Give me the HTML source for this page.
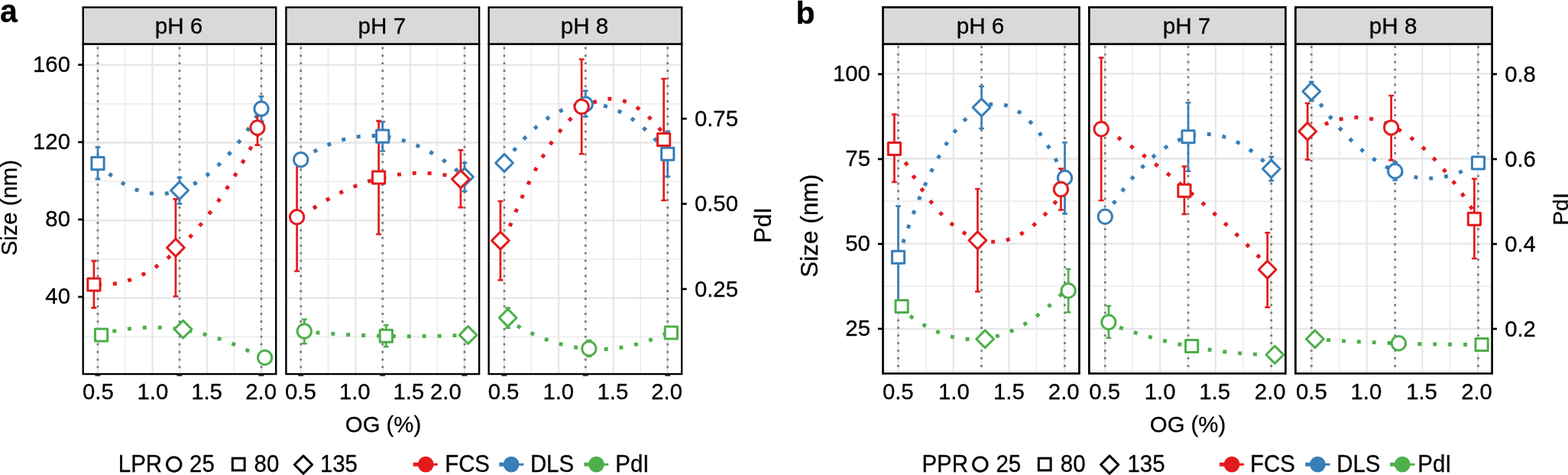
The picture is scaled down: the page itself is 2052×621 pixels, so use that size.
<!DOCTYPE html>
<html><head><meta charset="utf-8"><title>Figure</title>
<style>html,body{margin:0;padding:0;background:#fff;}body{width:2052px;height:621px;overflow:hidden;}svg{display:block;}</style>
</head><body>
<svg width="2052" height="621" viewBox="0 0 2052 621" font-family="'Liberation Sans', Arial, Helvetica, sans-serif">
<style>text{stroke:#000;stroke-width:0.3px;fill:#000}</style>
<rect width="2052" height="621" fill="#fff"/>
<clipPath id="c108_0"><rect x="108.7" y="57.5" width="252.5" height="431.5"/></clipPath>
<g clip-path="url(#c108_0)">
<line x1="108.7" x2="361.2" y1="135.7" y2="135.7" stroke="#ececec" stroke-width="1.6"/>
<line x1="108.7" x2="361.2" y1="237.3" y2="237.3" stroke="#ececec" stroke-width="1.6"/>
<line x1="108.7" x2="361.2" y1="338.9" y2="338.9" stroke="#ececec" stroke-width="1.6"/>
<line x1="108.7" x2="361.2" y1="440.5" y2="440.5" stroke="#ececec" stroke-width="1.6"/>
<line x1="163.7" x2="163.7" y1="57.5" y2="489" stroke="#ececec" stroke-width="1.6"/>
<line x1="235" x2="235" y1="57.5" y2="489" stroke="#ececec" stroke-width="1.6"/>
<line x1="306.5" x2="306.5" y1="57.5" y2="489" stroke="#ececec" stroke-width="1.6"/>
<line x1="108.7" x2="361.2" y1="84.9" y2="84.9" stroke="#e6e6e6" stroke-width="2.3"/>
<line x1="108.7" x2="361.2" y1="186.5" y2="186.5" stroke="#e6e6e6" stroke-width="2.3"/>
<line x1="108.7" x2="361.2" y1="288.1" y2="288.1" stroke="#e6e6e6" stroke-width="2.3"/>
<line x1="108.7" x2="361.2" y1="389.7" y2="389.7" stroke="#e6e6e6" stroke-width="2.3"/>
<line x1="128" x2="128" y1="57.5" y2="489" stroke="#e6e6e6" stroke-width="2.2"/>
<line x1="199.5" x2="199.5" y1="57.5" y2="489" stroke="#e6e6e6" stroke-width="2.2"/>
<line x1="271" x2="271" y1="57.5" y2="489" stroke="#e6e6e6" stroke-width="2.2"/>
<line x1="342" x2="342" y1="57.5" y2="489" stroke="#e6e6e6" stroke-width="2.2"/>
<line x1="128" x2="128" y1="57.5" y2="489" stroke="#767676" stroke-width="2.7" stroke-dasharray="2.7 7.23" stroke-dashoffset="5.88" />
<line x1="235" x2="235" y1="57.5" y2="489" stroke="#767676" stroke-width="2.7" stroke-dasharray="2.7 7.23" stroke-dashoffset="5.88" />
<line x1="342" x2="342" y1="57.5" y2="489" stroke="#767676" stroke-width="2.7" stroke-dasharray="2.7 7.23" stroke-dashoffset="5.88" />
<path d="M128 213.7L131.57 217.17L135.13 220.47L138.7 223.62L142.27 226.62L145.83 229.45L149.4 232.13L152.97 234.65L156.53 237.01L160.1 239.21L163.67 241.26L167.23 243.14L170.8 244.87L174.37 246.44L177.93 247.86L181.5 249.11L185.07 250.21L188.63 251.15L192.2 251.93L195.77 252.56L199.33 253.02L202.9 253.33L206.47 253.48L210.03 253.47L213.6 253.31L217.17 252.98L220.73 252.5L224.3 251.86L227.87 251.07L231.43 250.11L235 249L238.57 247.73L242.13 246.3L245.7 244.71L249.27 242.97L252.83 241.07L256.4 239.01L259.97 236.79L263.53 234.41L267.1 231.88L270.67 229.19L274.23 226.34L277.8 223.33L281.37 220.17L284.93 216.84L288.5 213.36L292.07 209.72L295.63 205.93L299.2 201.97L302.77 197.86L306.33 193.59L309.9 189.16L313.47 184.57L317.03 179.83L320.6 174.93L324.17 169.87L327.73 164.65L331.3 159.27L334.87 153.74L338.43 148.05L342 142.2" fill="none" stroke="#377EB8" stroke-width="4.95" stroke-dasharray="4.95 14.95"/>
<path d="M128 372L131.57 372.14L135.13 372.15L138.7 372.05L142.27 371.82L145.83 371.48L149.4 371.01L152.97 370.43L156.53 369.72L160.1 368.89L163.67 367.94L167.23 366.88L170.8 365.69L174.37 364.38L177.93 362.95L181.5 361.4L185.07 359.73L188.63 357.94L192.2 356.03L195.77 354L199.33 351.84L202.9 349.57L206.47 347.18L210.03 344.67L213.6 342.03L217.17 339.28L220.73 336.4L224.3 333.41L227.87 330.29L231.43 327.06L235 323.7L238.57 320.22L242.13 316.63L245.7 312.91L249.27 309.07L252.83 305.11L256.4 301.03L259.97 296.83L263.53 292.51L267.1 288.07L270.67 283.51L274.23 278.83L277.8 274.03L281.37 269.11L284.93 264.06L288.5 258.9L292.07 253.62L295.63 248.21L299.2 242.69L302.77 237.04L306.33 231.28L309.9 225.39L313.47 219.39L317.03 213.26L320.6 207.01L324.17 200.64L327.73 194.16L331.3 187.55L334.87 180.82L338.43 173.97L342 167" fill="none" stroke="#E41A1C" stroke-width="4.95" stroke-dasharray="4.95 14.95"/>
<path d="M128 438L131.57 437.03L135.13 436.12L138.7 435.25L142.27 434.43L145.83 433.66L149.4 432.94L152.97 432.27L156.53 431.65L160.1 431.08L163.67 430.56L167.23 430.08L170.8 429.66L174.37 429.29L177.93 428.96L181.5 428.69L185.07 428.46L188.63 428.29L192.2 428.16L195.77 428.08L199.33 428.06L202.9 428.08L206.47 428.15L210.03 428.27L213.6 428.44L217.17 428.66L220.73 428.93L224.3 429.25L227.87 429.62L231.43 430.03L235 430.5L238.57 431.02L242.13 431.58L245.7 432.2L249.27 432.86L252.83 433.58L256.4 434.34L259.97 435.15L263.53 436.02L267.1 436.93L270.67 437.89L274.23 438.9L277.8 439.96L281.37 441.07L284.93 442.23L288.5 443.44L292.07 444.7L295.63 446L299.2 447.36L302.77 448.77L306.33 450.22L309.9 451.73L313.47 453.28L317.03 454.89L320.6 456.54L324.17 458.24L327.73 460L331.3 461.8L334.87 463.65L338.43 465.55L342 467.5" fill="none" stroke="#4DAF4A" stroke-width="4.95" stroke-dasharray="4.95 14.95"/>
<path d="M128 192.5L128 234.2M124.6 192.5L131.4 192.5M124.6 234.2L131.4 234.2" fill="none" stroke="#377EB8" stroke-width="2.7"/>
<path d="M235 232.1L235 266.5M231.6 232.1L238.4 232.1M231.6 266.5L238.4 266.5" fill="none" stroke="#377EB8" stroke-width="2.7"/>
<path d="M342 126.2L342 158.6M338.6 126.2L345.4 126.2M338.6 158.6L345.4 158.6" fill="none" stroke="#377EB8" stroke-width="2.7"/>
<path d="M122.9 341.2L122.9 402.4M119.5 341.2L126.3 341.2M119.5 402.4L126.3 402.4" fill="none" stroke="#E41A1C" stroke-width="2.7"/>
<path d="M229.9 260.4L229.9 387.5M226.5 260.4L233.3 260.4M226.5 387.5L233.3 387.5" fill="none" stroke="#E41A1C" stroke-width="2.7"/>
<path d="M336.9 144.3L336.9 189.7M333.5 144.3L340.3 144.3M333.5 189.7L340.3 189.7" fill="none" stroke="#E41A1C" stroke-width="2.7"/>
<rect x="119.9" y="205.6" width="16.2" height="16.2" fill="#fff" stroke="#377EB8" stroke-width="3" stroke-linejoin="round"/>
<path d="M235 237.6L246.4 249L235 260.4L223.6 249Z" fill="#fff" stroke="#377EB8" stroke-width="3" stroke-linejoin="round"/>
<circle cx="342" cy="142.2" r="9.15" fill="#fff" stroke="#377EB8" stroke-width="3"/>
<rect x="114.8" y="363.9" width="16.2" height="16.2" fill="#fff" stroke="#E41A1C" stroke-width="3" stroke-linejoin="round"/>
<path d="M229.9 312.3L241.3 323.7L229.9 335.1L218.5 323.7Z" fill="#fff" stroke="#E41A1C" stroke-width="3" stroke-linejoin="round"/>
<circle cx="336.9" cy="167" r="9.15" fill="#fff" stroke="#E41A1C" stroke-width="3"/>
<rect x="124.5" y="429.9" width="16.2" height="16.2" fill="#fff" stroke="#4DAF4A" stroke-width="3" stroke-linejoin="round"/>
<path d="M239.6 419.1L251 430.5L239.6 441.9L228.2 430.5Z" fill="#fff" stroke="#4DAF4A" stroke-width="3" stroke-linejoin="round"/>
<circle cx="346.6" cy="467.5" r="9.15" fill="#fff" stroke="#4DAF4A" stroke-width="3"/>
</g>
<rect x="108.7" y="57.5" width="252.5" height="431.5" fill="none" stroke="#000" stroke-width="2.4"/>
<rect x="108.7" y="9.6" width="252.5" height="47.9" fill="#d9d9d9" stroke="#000" stroke-width="2.4"/>
<text transform="translate(234.05 44.4) scale(1 1.0)" text-anchor="middle" font-size="29.6">pH 6</text>
<clipPath id="c374_1"><rect x="374.4" y="57.5" width="252.7" height="431.5"/></clipPath>
<g clip-path="url(#c374_1)">
<line x1="374.4" x2="627.1" y1="135.7" y2="135.7" stroke="#ececec" stroke-width="1.6"/>
<line x1="374.4" x2="627.1" y1="237.3" y2="237.3" stroke="#ececec" stroke-width="1.6"/>
<line x1="374.4" x2="627.1" y1="338.9" y2="338.9" stroke="#ececec" stroke-width="1.6"/>
<line x1="374.4" x2="627.1" y1="440.5" y2="440.5" stroke="#ececec" stroke-width="1.6"/>
<line x1="429.5" x2="429.5" y1="57.5" y2="489" stroke="#ececec" stroke-width="1.6"/>
<line x1="500.8" x2="500.8" y1="57.5" y2="489" stroke="#ececec" stroke-width="1.6"/>
<line x1="572.3" x2="572.3" y1="57.5" y2="489" stroke="#ececec" stroke-width="1.6"/>
<line x1="374.4" x2="627.1" y1="84.9" y2="84.9" stroke="#e6e6e6" stroke-width="2.3"/>
<line x1="374.4" x2="627.1" y1="186.5" y2="186.5" stroke="#e6e6e6" stroke-width="2.3"/>
<line x1="374.4" x2="627.1" y1="288.1" y2="288.1" stroke="#e6e6e6" stroke-width="2.3"/>
<line x1="374.4" x2="627.1" y1="389.7" y2="389.7" stroke="#e6e6e6" stroke-width="2.3"/>
<line x1="393.8" x2="393.8" y1="57.5" y2="489" stroke="#e6e6e6" stroke-width="2.2"/>
<line x1="465.3" x2="465.3" y1="57.5" y2="489" stroke="#e6e6e6" stroke-width="2.2"/>
<line x1="536.8" x2="536.8" y1="57.5" y2="489" stroke="#e6e6e6" stroke-width="2.2"/>
<line x1="607.8" x2="607.8" y1="57.5" y2="489" stroke="#e6e6e6" stroke-width="2.2"/>
<line x1="393.7" x2="393.7" y1="57.5" y2="489" stroke="#767676" stroke-width="2.7" stroke-dasharray="2.7 7.23" stroke-dashoffset="5.88" />
<line x1="500.7" x2="500.7" y1="57.5" y2="489" stroke="#767676" stroke-width="2.7" stroke-dasharray="2.7 7.23" stroke-dashoffset="5.88" />
<line x1="608" x2="608" y1="57.5" y2="489" stroke="#767676" stroke-width="2.7" stroke-dasharray="2.7 7.23" stroke-dashoffset="5.88" />
<path d="M393.7 208.75L397.27 206.39L400.84 204.11L404.41 201.94L407.99 199.85L411.56 197.86L415.13 195.96L418.7 194.15L422.27 192.44L425.84 190.81L429.42 189.29L432.99 187.85L436.56 186.51L440.13 185.26L443.7 184.1L447.27 183.04L450.85 182.07L454.42 181.19L457.99 180.4L461.56 179.71L465.13 179.11L468.7 178.6L472.28 178.19L475.85 177.87L479.42 177.64L482.99 177.5L486.56 177.46L490.13 177.51L493.71 177.65L497.28 177.89L500.85 178.22L504.42 178.64L507.99 179.15L511.56 179.76L515.14 180.46L518.71 181.25L522.28 182.14L525.85 183.12L529.42 184.19L533 185.35L536.57 186.61L540.14 187.96L543.71 189.4L547.28 190.94L550.85 192.57L554.42 194.29L558 196.1L561.57 198.01L565.14 200.01L568.71 202.1L572.28 204.29L575.86 206.56L579.43 208.94L583 211.4L586.57 213.96L590.14 216.61L593.71 219.35L597.28 222.19L600.86 225.11L604.43 228.14L608 231.25" fill="none" stroke="#377EB8" stroke-width="4.95" stroke-dasharray="4.95 14.95"/>
<path d="M393.7 283.75L397.27 281.15L400.84 278.62L404.41 276.14L407.99 273.72L411.56 271.36L415.13 269.07L418.7 266.83L422.27 264.65L425.84 262.54L429.42 260.48L432.99 258.48L436.56 256.55L440.13 254.67L443.7 252.86L447.27 251.1L450.85 249.4L454.42 247.77L457.99 246.19L461.56 244.67L465.13 243.22L468.7 241.82L472.28 240.49L475.85 239.21L479.42 238L482.99 236.84L486.56 235.75L490.13 234.71L493.71 233.74L497.28 232.82L500.85 231.97L504.42 231.17L507.99 230.44L511.56 229.76L515.14 229.15L518.71 228.59L522.28 228.1L525.85 227.66L529.42 227.29L533 226.97L536.57 226.72L540.14 226.52L543.71 226.39L547.28 226.32L550.85 226.3L554.42 226.35L558 226.46L561.57 226.62L565.14 226.85L568.71 227.13L572.28 227.48L575.86 227.89L579.43 228.35L583 228.88L586.57 229.47L590.14 230.11L593.71 230.82L597.28 231.59L600.86 232.42L604.43 233.3L608 234.25" fill="none" stroke="#E41A1C" stroke-width="4.95" stroke-dasharray="4.95 14.95"/>
<path d="M393.7 433L397.27 433.33L400.84 433.65L404.41 433.96L407.99 434.27L411.56 434.56L415.13 434.85L418.7 435.13L422.27 435.4L425.84 435.66L429.42 435.92L432.99 436.16L436.56 436.4L440.13 436.63L443.7 436.85L447.27 437.07L450.85 437.27L454.42 437.47L457.99 437.65L461.56 437.83L465.13 438L468.7 438.17L472.28 438.32L475.85 438.47L479.42 438.6L482.99 438.73L486.56 438.85L490.13 438.97L493.71 439.07L497.28 439.17L500.85 439.25L504.42 439.33L507.99 439.4L511.56 439.47L515.14 439.52L518.71 439.57L522.28 439.6L525.85 439.63L529.42 439.65L533 439.67L536.57 439.67L540.14 439.67L543.71 439.65L547.28 439.63L550.85 439.6L554.42 439.57L558 439.52L561.57 439.46L565.14 439.4L568.71 439.33L572.28 439.25L575.86 439.16L579.43 439.07L583 438.96L586.57 438.85L590.14 438.73L593.71 438.6L597.28 438.46L600.86 438.32L604.43 438.16L608 438" fill="none" stroke="#4DAF4A" stroke-width="4.95" stroke-dasharray="4.95 14.95"/>
<path d="M500.7 159.2L500.7 197.5M497.3 159.2L504.1 159.2M497.3 197.5L504.1 197.5" fill="none" stroke="#377EB8" stroke-width="2.7"/>
<path d="M608 213L608 250M604.6 213L611.4 213M604.6 250L611.4 250" fill="none" stroke="#377EB8" stroke-width="2.7"/>
<path d="M388.6 213L388.6 354.5M385.2 213L392 213M385.2 354.5L392 354.5" fill="none" stroke="#E41A1C" stroke-width="2.7"/>
<path d="M495.6 158.2L495.6 306.25M492.2 158.2L499 158.2M492.2 306.25L499 306.25" fill="none" stroke="#E41A1C" stroke-width="2.7"/>
<path d="M602.9 196.25L602.9 271.25M599.5 196.25L606.3 196.25M599.5 271.25L606.3 271.25" fill="none" stroke="#E41A1C" stroke-width="2.7"/>
<path d="M398.3 417.5L398.3 449.25M394.9 417.5L401.7 417.5M394.9 449.25L401.7 449.25" fill="none" stroke="#4DAF4A" stroke-width="2.7"/>
<path d="M505.3 425L505.3 453.25M501.9 425L508.7 425M501.9 453.25L508.7 453.25" fill="none" stroke="#4DAF4A" stroke-width="2.7"/>
<circle cx="393.7" cy="208.75" r="9.15" fill="#fff" stroke="#377EB8" stroke-width="3"/>
<rect x="492.6" y="170.1" width="16.2" height="16.2" fill="#fff" stroke="#377EB8" stroke-width="3" stroke-linejoin="round"/>
<path d="M608 219.85L619.4 231.25L608 242.65L596.6 231.25Z" fill="#fff" stroke="#377EB8" stroke-width="3" stroke-linejoin="round"/>
<circle cx="388.6" cy="283.75" r="9.15" fill="#fff" stroke="#E41A1C" stroke-width="3"/>
<rect x="487.5" y="223.9" width="16.2" height="16.2" fill="#fff" stroke="#E41A1C" stroke-width="3" stroke-linejoin="round"/>
<path d="M602.9 222.85L614.3 234.25L602.9 245.65L591.5 234.25Z" fill="#fff" stroke="#E41A1C" stroke-width="3" stroke-linejoin="round"/>
<circle cx="398.3" cy="433" r="9.15" fill="#fff" stroke="#4DAF4A" stroke-width="3"/>
<rect x="497.2" y="431.15" width="16.2" height="16.2" fill="#fff" stroke="#4DAF4A" stroke-width="3" stroke-linejoin="round"/>
<path d="M612.6 426.6L624 438L612.6 449.4L601.2 438Z" fill="#fff" stroke="#4DAF4A" stroke-width="3" stroke-linejoin="round"/>
</g>
<rect x="374.4" y="57.5" width="252.7" height="431.5" fill="none" stroke="#000" stroke-width="2.4"/>
<rect x="374.4" y="9.6" width="252.7" height="47.9" fill="#d9d9d9" stroke="#000" stroke-width="2.4"/>
<text transform="translate(499.85 44.4) scale(1 1.0)" text-anchor="middle" font-size="29.6">pH 7</text>
<clipPath id="c639_2"><rect x="639.6" y="57.5" width="252.6" height="431.5"/></clipPath>
<g clip-path="url(#c639_2)">
<line x1="639.6" x2="892.2" y1="135.7" y2="135.7" stroke="#ececec" stroke-width="1.6"/>
<line x1="639.6" x2="892.2" y1="237.3" y2="237.3" stroke="#ececec" stroke-width="1.6"/>
<line x1="639.6" x2="892.2" y1="338.9" y2="338.9" stroke="#ececec" stroke-width="1.6"/>
<line x1="639.6" x2="892.2" y1="440.5" y2="440.5" stroke="#ececec" stroke-width="1.6"/>
<line x1="695.37" x2="695.37" y1="57.5" y2="489" stroke="#ececec" stroke-width="1.6"/>
<line x1="766.67" x2="766.67" y1="57.5" y2="489" stroke="#ececec" stroke-width="1.6"/>
<line x1="838.17" x2="838.17" y1="57.5" y2="489" stroke="#ececec" stroke-width="1.6"/>
<line x1="639.6" x2="892.2" y1="84.9" y2="84.9" stroke="#e6e6e6" stroke-width="2.3"/>
<line x1="639.6" x2="892.2" y1="186.5" y2="186.5" stroke="#e6e6e6" stroke-width="2.3"/>
<line x1="639.6" x2="892.2" y1="288.1" y2="288.1" stroke="#e6e6e6" stroke-width="2.3"/>
<line x1="639.6" x2="892.2" y1="389.7" y2="389.7" stroke="#e6e6e6" stroke-width="2.3"/>
<line x1="659.67" x2="659.67" y1="57.5" y2="489" stroke="#e6e6e6" stroke-width="2.2"/>
<line x1="731.17" x2="731.17" y1="57.5" y2="489" stroke="#e6e6e6" stroke-width="2.2"/>
<line x1="802.67" x2="802.67" y1="57.5" y2="489" stroke="#e6e6e6" stroke-width="2.2"/>
<line x1="873.67" x2="873.67" y1="57.5" y2="489" stroke="#e6e6e6" stroke-width="2.2"/>
<line x1="660" x2="660" y1="57.5" y2="489" stroke="#767676" stroke-width="2.7" stroke-dasharray="2.7 7.23" stroke-dashoffset="5.88" />
<line x1="766.25" x2="766.25" y1="57.5" y2="489" stroke="#767676" stroke-width="2.7" stroke-dasharray="2.7 7.23" stroke-dashoffset="5.88" />
<line x1="873.75" x2="873.75" y1="57.5" y2="489" stroke="#767676" stroke-width="2.7" stroke-dasharray="2.7 7.23" stroke-dashoffset="5.88" />
<path d="M660 213L663.56 208.16L667.12 203.47L670.69 198.94L674.25 194.57L677.81 190.35L681.38 186.3L684.94 182.4L688.5 178.66L692.06 175.07L695.62 171.65L699.19 168.38L702.75 165.27L706.31 162.31L709.88 159.52L713.44 156.88L717 154.4L720.56 152.07L724.12 149.91L727.69 147.9L731.25 146.05L734.81 144.36L738.38 142.82L741.94 141.44L745.5 140.22L749.06 139.16L752.62 138.26L756.19 137.51L759.75 136.92L763.31 136.49L766.88 136.21L770.44 136.1L774 136.14L777.56 136.33L781.12 136.69L784.69 137.2L788.25 137.87L791.81 138.7L795.38 139.69L798.94 140.83L802.5 142.13L806.06 143.59L809.62 145.21L813.19 146.98L816.75 148.91L820.31 151L823.88 153.25L827.44 155.65L831 158.22L834.56 160.94L838.12 163.81L841.69 166.85L845.25 170.04L848.81 173.39L852.38 176.9L855.94 180.56L859.5 184.38L863.06 188.36L866.62 192.5L870.19 196.8L873.75 201.25" fill="none" stroke="#377EB8" stroke-width="4.95" stroke-dasharray="4.95 14.95"/>
<path d="M660 314.5L663.56 305.13L667.12 296L670.69 287.12L674.25 278.47L677.81 270.08L681.38 261.92L684.94 254.01L688.5 246.34L692.06 238.91L695.62 231.73L699.19 224.79L702.75 218.09L706.31 211.64L709.88 205.43L713.44 199.46L717 193.73L720.56 188.25L724.12 183.01L727.69 178.02L731.25 173.26L734.81 168.76L738.38 164.49L741.94 160.47L745.5 156.69L749.06 153.15L752.62 149.85L756.19 146.8L759.75 144L763.31 141.43L766.88 139.11L770.44 137.03L774 135.2L777.56 133.6L781.12 132.25L784.69 131.15L788.25 130.29L791.81 129.67L795.38 129.29L798.94 129.16L802.5 129.26L806.06 129.62L809.62 130.21L813.19 131.05L816.75 132.13L820.31 133.46L823.88 135.03L827.44 136.84L831 138.89L834.56 141.19L838.12 143.73L841.69 146.51L845.25 149.54L848.81 152.81L852.38 156.32L855.94 160.08L859.5 164.07L863.06 168.32L866.62 172.8L870.19 177.53L873.75 182.5" fill="none" stroke="#E41A1C" stroke-width="4.95" stroke-dasharray="4.95 14.95"/>
<path d="M660 415.5L663.56 417.83L667.12 420.09L670.69 422.28L674.25 424.41L677.81 426.46L681.38 428.45L684.94 430.37L688.5 432.22L692.06 434.01L695.62 435.73L699.19 437.38L702.75 438.96L706.31 440.47L709.88 441.92L713.44 443.29L717 444.6L720.56 445.84L724.12 447.02L727.69 448.12L731.25 449.16L734.81 450.13L738.38 451.04L741.94 451.87L745.5 452.64L749.06 453.33L752.62 453.96L756.19 454.53L759.75 455.02L763.31 455.45L766.88 455.81L770.44 456.1L774 456.32L777.56 456.48L781.12 456.56L784.69 456.58L788.25 456.54L791.81 456.42L795.38 456.24L798.94 455.98L802.5 455.66L806.06 455.27L809.62 454.82L813.19 454.29L816.75 453.7L820.31 453.04L823.88 452.32L827.44 451.52L831 450.66L834.56 449.73L838.12 448.73L841.69 447.66L845.25 446.52L848.81 445.32L852.38 444.05L855.94 442.71L859.5 441.31L863.06 439.83L866.62 438.29L870.19 436.68L873.75 435" fill="none" stroke="#4DAF4A" stroke-width="4.95" stroke-dasharray="4.95 14.95"/>
<path d="M766.25 118.75L766.25 152.5M762.85 118.75L769.65 118.75M762.85 152.5L769.65 152.5" fill="none" stroke="#377EB8" stroke-width="2.7"/>
<path d="M873.75 171.75L873.75 230.75M870.35 171.75L877.15 171.75M870.35 230.75L877.15 230.75" fill="none" stroke="#377EB8" stroke-width="2.7"/>
<path d="M654.9 263L654.9 366.25M651.5 263L658.3 263M651.5 366.25L658.3 366.25" fill="none" stroke="#E41A1C" stroke-width="2.7"/>
<path d="M761.15 77.5L761.15 201.25M757.75 77.5L764.55 77.5M757.75 201.25L764.55 201.25" fill="none" stroke="#E41A1C" stroke-width="2.7"/>
<path d="M868.65 103L868.65 262M865.25 103L872.05 103M865.25 262L872.05 262" fill="none" stroke="#E41A1C" stroke-width="2.7"/>
<path d="M664.6 402.5L664.6 428.75M661.2 402.5L668 402.5M661.2 428.75L668 428.75" fill="none" stroke="#4DAF4A" stroke-width="2.7"/>
<path d="M770.85 445L770.85 466M767.45 445L774.25 445M767.45 466L774.25 466" fill="none" stroke="#4DAF4A" stroke-width="2.7"/>
<path d="M660 201.6L671.4 213L660 224.4L648.6 213Z" fill="#fff" stroke="#377EB8" stroke-width="3" stroke-linejoin="round"/>
<circle cx="766.25" cy="136.25" r="9.15" fill="#fff" stroke="#377EB8" stroke-width="3"/>
<rect x="865.65" y="193.15" width="16.2" height="16.2" fill="#fff" stroke="#377EB8" stroke-width="3" stroke-linejoin="round"/>
<path d="M654.9 303.1L666.3 314.5L654.9 325.9L643.5 314.5Z" fill="#fff" stroke="#E41A1C" stroke-width="3" stroke-linejoin="round"/>
<circle cx="761.15" cy="139.5" r="9.15" fill="#fff" stroke="#E41A1C" stroke-width="3"/>
<rect x="860.55" y="174.4" width="16.2" height="16.2" fill="#fff" stroke="#E41A1C" stroke-width="3" stroke-linejoin="round"/>
<path d="M664.6 404.1L676 415.5L664.6 426.9L653.2 415.5Z" fill="#fff" stroke="#4DAF4A" stroke-width="3" stroke-linejoin="round"/>
<circle cx="770.85" cy="455.75" r="9.15" fill="#fff" stroke="#4DAF4A" stroke-width="3"/>
<rect x="870.25" y="426.9" width="16.2" height="16.2" fill="#fff" stroke="#4DAF4A" stroke-width="3" stroke-linejoin="round"/>
</g>
<rect x="639.6" y="57.5" width="252.6" height="431.5" fill="none" stroke="#000" stroke-width="2.4"/>
<rect x="639.6" y="9.6" width="252.6" height="47.9" fill="#d9d9d9" stroke="#000" stroke-width="2.4"/>
<text transform="translate(765 44.4) scale(1 1.0)" text-anchor="middle" font-size="29.6">pH 8</text>
<clipPath id="c1155_0"><rect x="1155.5" y="57.6" width="256.9" height="430.7"/></clipPath>
<g clip-path="url(#c1155_0)">
<line x1="1155.5" x2="1412.4" y1="152" y2="152" stroke="#ececec" stroke-width="1.6"/>
<line x1="1155.5" x2="1412.4" y1="263.1" y2="263.1" stroke="#ececec" stroke-width="1.6"/>
<line x1="1155.5" x2="1412.4" y1="374.3" y2="374.3" stroke="#ececec" stroke-width="1.6"/>
<line x1="1155.5" x2="1412.4" y1="485.4" y2="485.4" stroke="#ececec" stroke-width="1.6"/>
<line x1="1211.7" x2="1211.7" y1="57.6" y2="488.3" stroke="#ececec" stroke-width="1.6"/>
<line x1="1284.3" x2="1284.3" y1="57.6" y2="488.3" stroke="#ececec" stroke-width="1.6"/>
<line x1="1356.4" x2="1356.4" y1="57.6" y2="488.3" stroke="#ececec" stroke-width="1.6"/>
<line x1="1155.5" x2="1412.4" y1="96.4" y2="96.4" stroke="#e6e6e6" stroke-width="2.3"/>
<line x1="1155.5" x2="1412.4" y1="207.5" y2="207.5" stroke="#e6e6e6" stroke-width="2.3"/>
<line x1="1155.5" x2="1412.4" y1="318.7" y2="318.7" stroke="#e6e6e6" stroke-width="2.3"/>
<line x1="1155.5" x2="1412.4" y1="429.8" y2="429.8" stroke="#e6e6e6" stroke-width="2.3"/>
<line x1="1175.5" x2="1175.5" y1="57.6" y2="488.3" stroke="#e6e6e6" stroke-width="2.2"/>
<line x1="1247.7" x2="1247.7" y1="57.6" y2="488.3" stroke="#e6e6e6" stroke-width="2.2"/>
<line x1="1320.3" x2="1320.3" y1="57.6" y2="488.3" stroke="#e6e6e6" stroke-width="2.2"/>
<line x1="1392.9" x2="1392.9" y1="57.6" y2="488.3" stroke="#e6e6e6" stroke-width="2.2"/>
<line x1="1175.5" x2="1175.5" y1="57.6" y2="488.3" stroke="#767676" stroke-width="2.7" stroke-dasharray="2.7 7.23" stroke-dashoffset="7.58" />
<line x1="1284.5" x2="1284.5" y1="57.6" y2="488.3" stroke="#767676" stroke-width="2.7" stroke-dasharray="2.7 7.23" stroke-dashoffset="7.58" />
<line x1="1393.5" x2="1393.5" y1="57.6" y2="488.3" stroke="#767676" stroke-width="2.7" stroke-dasharray="2.7 7.23" stroke-dashoffset="7.58" />
<path d="M1175.5 336.25L1179.13 325.09L1182.77 314.25L1186.4 303.73L1190.03 293.52L1193.67 283.64L1197.3 274.08L1200.93 264.84L1204.57 255.91L1208.2 247.31L1211.83 239.03L1215.47 231.06L1219.1 223.42L1222.73 216.1L1226.37 209.09L1230 202.41L1233.63 196.04L1237.27 190L1240.9 184.27L1244.53 178.86L1248.17 173.78L1251.8 169.01L1255.43 164.56L1259.07 160.44L1262.7 156.63L1266.33 153.14L1269.97 149.97L1273.6 147.13L1277.23 144.6L1280.87 142.39L1284.5 140.5L1288.13 138.93L1291.77 137.68L1295.4 136.75L1299.03 136.14L1302.67 135.85L1306.3 135.88L1309.93 136.23L1313.57 136.9L1317.2 137.89L1320.83 139.19L1324.47 140.82L1328.1 142.77L1331.73 145.04L1335.37 147.62L1339 150.53L1342.63 153.76L1346.27 157.3L1349.9 161.17L1353.53 165.36L1357.17 169.86L1360.8 174.69L1364.43 179.83L1368.07 185.3L1371.7 191.08L1375.33 197.18L1378.97 203.61L1382.6 210.35L1386.23 217.41L1389.87 224.8L1393.5 232.5" fill="none" stroke="#377EB8" stroke-width="4.95" stroke-dasharray="4.95 14.95"/>
<path d="M1175.5 194.5L1179.13 201.5L1182.77 208.29L1186.4 214.87L1190.03 221.24L1193.67 227.41L1197.3 233.37L1200.93 239.12L1204.57 244.67L1208.2 250.01L1211.83 255.14L1215.47 260.06L1219.1 264.78L1222.73 269.29L1226.37 273.59L1230 277.69L1233.63 281.58L1237.27 285.26L1240.9 288.73L1244.53 292L1248.17 295.06L1251.8 297.91L1255.43 300.55L1259.07 302.99L1262.7 305.22L1266.33 307.24L1269.97 309.06L1273.6 310.67L1277.23 312.07L1280.87 313.26L1284.5 314.25L1288.13 315.03L1291.77 315.6L1295.4 315.97L1299.03 316.13L1302.67 316.08L1306.3 315.82L1309.93 315.36L1313.57 314.69L1317.2 313.81L1320.83 312.72L1324.47 311.43L1328.1 309.93L1331.73 308.22L1335.37 306.31L1339 304.19L1342.63 301.86L1346.27 299.32L1349.9 296.58L1353.53 293.63L1357.17 290.47L1360.8 287.11L1364.43 283.54L1368.07 279.76L1371.7 275.77L1375.33 271.58L1378.97 267.18L1382.6 262.57L1386.23 257.75L1389.87 252.73L1393.5 247.5" fill="none" stroke="#E41A1C" stroke-width="4.95" stroke-dasharray="4.95 14.95"/>
<path d="M1175.5 400.5L1179.13 403.63L1182.77 406.65L1186.4 409.55L1190.03 412.32L1193.67 414.99L1197.3 417.53L1200.93 419.96L1204.57 422.26L1208.2 424.46L1211.83 426.53L1215.47 428.48L1219.1 430.32L1222.73 432.04L1226.37 433.64L1230 435.12L1233.63 436.49L1237.27 437.74L1240.9 438.87L1244.53 439.88L1248.17 440.78L1251.8 441.56L1255.43 442.21L1259.07 442.76L1262.7 443.18L1266.33 443.49L1269.97 443.67L1273.6 443.75L1277.23 443.7L1280.87 443.53L1284.5 443.25L1288.13 442.85L1291.77 442.33L1295.4 441.69L1299.03 440.94L1302.67 440.07L1306.3 439.08L1309.93 437.97L1313.57 436.75L1317.2 435.41L1320.83 433.94L1324.47 432.37L1328.1 430.67L1331.73 428.86L1335.37 426.92L1339 424.88L1342.63 422.71L1346.27 420.42L1349.9 418.02L1353.53 415.5L1357.17 412.86L1360.8 410.11L1364.43 407.23L1368.07 404.24L1371.7 401.13L1375.33 397.9L1378.97 394.56L1382.6 391.1L1386.23 387.51L1389.87 383.82L1393.5 380" fill="none" stroke="#4DAF4A" stroke-width="4.95" stroke-dasharray="4.95 14.95"/>
<path d="M1175.5 269.5L1175.5 403M1172.1 269.5L1178.9 269.5M1172.1 403L1178.9 403" fill="none" stroke="#377EB8" stroke-width="2.7"/>
<path d="M1284.5 113L1284.5 168M1281.1 113L1287.9 113M1281.1 168L1287.9 168" fill="none" stroke="#377EB8" stroke-width="2.7"/>
<path d="M1393.5 186.25L1393.5 279.25M1390.1 186.25L1396.9 186.25M1390.1 279.25L1396.9 279.25" fill="none" stroke="#377EB8" stroke-width="2.7"/>
<path d="M1170.4 149.5L1170.4 238M1167 149.5L1173.8 149.5M1167 238L1173.8 238" fill="none" stroke="#E41A1C" stroke-width="2.7"/>
<path d="M1279.4 247L1279.4 381.25M1276 247L1282.8 247M1276 381.25L1282.8 381.25" fill="none" stroke="#E41A1C" stroke-width="2.7"/>
<path d="M1388.4 220.5L1388.4 274.5M1385 220.5L1391.8 220.5M1385 274.5L1391.8 274.5" fill="none" stroke="#E41A1C" stroke-width="2.7"/>
<path d="M1398.1 351.75L1398.1 408.25M1394.7 351.75L1401.5 351.75M1394.7 408.25L1401.5 408.25" fill="none" stroke="#4DAF4A" stroke-width="2.7"/>
<rect x="1167.4" y="328.15" width="16.2" height="16.2" fill="#fff" stroke="#377EB8" stroke-width="3" stroke-linejoin="round"/>
<path d="M1284.5 129.1L1295.9 140.5L1284.5 151.9L1273.1 140.5Z" fill="#fff" stroke="#377EB8" stroke-width="3" stroke-linejoin="round"/>
<circle cx="1393.5" cy="232.5" r="9.15" fill="#fff" stroke="#377EB8" stroke-width="3"/>
<rect x="1162.3" y="186.4" width="16.2" height="16.2" fill="#fff" stroke="#E41A1C" stroke-width="3" stroke-linejoin="round"/>
<path d="M1279.4 302.85L1290.8 314.25L1279.4 325.65L1268 314.25Z" fill="#fff" stroke="#E41A1C" stroke-width="3" stroke-linejoin="round"/>
<circle cx="1388.4" cy="247.5" r="9.15" fill="#fff" stroke="#E41A1C" stroke-width="3"/>
<rect x="1172" y="392.4" width="16.2" height="16.2" fill="#fff" stroke="#4DAF4A" stroke-width="3" stroke-linejoin="round"/>
<path d="M1289.1 431.85L1300.5 443.25L1289.1 454.65L1277.7 443.25Z" fill="#fff" stroke="#4DAF4A" stroke-width="3" stroke-linejoin="round"/>
<circle cx="1398.1" cy="380" r="9.15" fill="#fff" stroke="#4DAF4A" stroke-width="3"/>
</g>
<rect x="1155.5" y="57.6" width="256.9" height="430.7" fill="none" stroke="#000" stroke-width="2.7"/>
<rect x="1155.5" y="9.5" width="256.9" height="48.1" fill="#d9d9d9" stroke="#000" stroke-width="2.7"/>
<text transform="translate(1283.05 44) scale(1 1.0)" text-anchor="middle" font-size="29.6">pH 6</text>
<clipPath id="c1425_1"><rect x="1425.3" y="57.6" width="257.1" height="430.7"/></clipPath>
<g clip-path="url(#c1425_1)">
<line x1="1425.3" x2="1682.4" y1="152" y2="152" stroke="#ececec" stroke-width="1.6"/>
<line x1="1425.3" x2="1682.4" y1="263.1" y2="263.1" stroke="#ececec" stroke-width="1.6"/>
<line x1="1425.3" x2="1682.4" y1="374.3" y2="374.3" stroke="#ececec" stroke-width="1.6"/>
<line x1="1425.3" x2="1682.4" y1="485.4" y2="485.4" stroke="#ececec" stroke-width="1.6"/>
<line x1="1482.2" x2="1482.2" y1="57.6" y2="488.3" stroke="#ececec" stroke-width="1.6"/>
<line x1="1554.8" x2="1554.8" y1="57.6" y2="488.3" stroke="#ececec" stroke-width="1.6"/>
<line x1="1626.9" x2="1626.9" y1="57.6" y2="488.3" stroke="#ececec" stroke-width="1.6"/>
<line x1="1425.3" x2="1682.4" y1="96.4" y2="96.4" stroke="#e6e6e6" stroke-width="2.3"/>
<line x1="1425.3" x2="1682.4" y1="207.5" y2="207.5" stroke="#e6e6e6" stroke-width="2.3"/>
<line x1="1425.3" x2="1682.4" y1="318.7" y2="318.7" stroke="#e6e6e6" stroke-width="2.3"/>
<line x1="1425.3" x2="1682.4" y1="429.8" y2="429.8" stroke="#e6e6e6" stroke-width="2.3"/>
<line x1="1446" x2="1446" y1="57.6" y2="488.3" stroke="#e6e6e6" stroke-width="2.2"/>
<line x1="1518.2" x2="1518.2" y1="57.6" y2="488.3" stroke="#e6e6e6" stroke-width="2.2"/>
<line x1="1590.8" x2="1590.8" y1="57.6" y2="488.3" stroke="#e6e6e6" stroke-width="2.2"/>
<line x1="1663.4" x2="1663.4" y1="57.6" y2="488.3" stroke="#e6e6e6" stroke-width="2.2"/>
<line x1="1446.25" x2="1446.25" y1="57.6" y2="488.3" stroke="#767676" stroke-width="2.7" stroke-dasharray="2.7 7.23" stroke-dashoffset="7.58" />
<line x1="1555" x2="1555" y1="57.6" y2="488.3" stroke="#767676" stroke-width="2.7" stroke-dasharray="2.7 7.23" stroke-dashoffset="7.58" />
<line x1="1663.75" x2="1663.75" y1="57.6" y2="488.3" stroke="#767676" stroke-width="2.7" stroke-dasharray="2.7 7.23" stroke-dashoffset="7.58" />
<path d="M1446.25 283.25L1449.88 277.41L1453.5 271.73L1457.12 266.21L1460.75 260.85L1464.38 255.66L1468 250.63L1471.62 245.76L1475.25 241.06L1478.88 236.52L1482.5 232.14L1486.12 227.92L1489.75 223.87L1493.38 219.98L1497 216.25L1500.62 212.69L1504.25 209.29L1507.88 206.05L1511.5 202.97L1515.12 200.06L1518.75 197.31L1522.38 194.72L1526 192.29L1529.62 190.03L1533.25 187.93L1536.88 185.99L1540.5 184.22L1544.12 182.61L1547.75 181.16L1551.38 179.87L1555 178.75L1558.62 177.79L1562.25 176.99L1565.88 176.36L1569.5 175.89L1573.12 175.58L1576.75 175.43L1580.38 175.45L1584 175.63L1587.62 175.97L1591.25 176.47L1594.88 177.14L1598.5 177.97L1602.12 178.96L1605.75 180.12L1609.38 181.44L1613 182.92L1616.62 184.56L1620.25 186.37L1623.88 188.34L1627.5 190.47L1631.12 192.77L1634.75 195.23L1638.38 197.85L1642 200.63L1645.62 203.58L1649.25 206.69L1652.88 209.96L1656.5 213.39L1660.12 216.99L1663.75 220.75" fill="none" stroke="#377EB8" stroke-width="4.95" stroke-dasharray="4.95 14.95"/>
<path d="M1446.25 168.75L1449.88 171.07L1453.5 173.41L1457.12 175.78L1460.75 178.17L1464.38 180.59L1468 183.03L1471.62 185.5L1475.25 187.99L1478.88 190.51L1482.5 193.06L1486.12 195.63L1489.75 198.22L1493.38 200.84L1497 203.49L1500.62 206.16L1504.25 208.85L1507.88 211.57L1511.5 214.32L1515.12 217.09L1518.75 219.89L1522.38 222.71L1526 225.56L1529.62 228.43L1533.25 231.33L1536.88 234.25L1540.5 237.2L1544.12 240.18L1547.75 243.18L1551.38 246.2L1555 249.25L1558.62 252.33L1562.25 255.43L1565.88 258.55L1569.5 261.7L1573.12 264.88L1576.75 268.08L1580.38 271.31L1584 274.56L1587.62 277.84L1591.25 281.14L1594.88 284.47L1598.5 287.82L1602.12 291.2L1605.75 294.6L1609.38 298.03L1613 301.49L1616.62 304.97L1620.25 308.47L1623.88 312L1627.5 315.56L1631.12 319.14L1634.75 322.74L1638.38 326.37L1642 330.03L1645.62 333.71L1649.25 337.42L1652.88 341.15L1656.5 344.91L1660.12 348.69L1663.75 352.5" fill="none" stroke="#E41A1C" stroke-width="4.95" stroke-dasharray="4.95 14.95"/>
<path d="M1446.25 421.25L1449.88 422.61L1453.5 423.96L1457.12 425.27L1460.75 426.57L1464.38 427.85L1468 429.1L1471.62 430.33L1475.25 431.54L1478.88 432.72L1482.5 433.89L1486.12 435.03L1489.75 436.15L1493.38 437.25L1497 438.32L1500.62 439.38L1504.25 440.41L1507.88 441.41L1511.5 442.4L1515.12 443.36L1518.75 444.31L1522.38 445.23L1526 446.12L1529.62 447L1533.25 447.85L1536.88 448.68L1540.5 449.49L1544.12 450.28L1547.75 451.04L1551.38 451.78L1555 452.5L1558.62 453.2L1562.25 453.87L1565.88 454.53L1569.5 455.16L1573.12 455.76L1576.75 456.35L1580.38 456.91L1584 457.46L1587.62 457.98L1591.25 458.47L1594.88 458.95L1598.5 459.4L1602.12 459.83L1605.75 460.24L1609.38 460.62L1613 460.99L1616.62 461.33L1620.25 461.65L1623.88 461.95L1627.5 462.22L1631.12 462.48L1634.75 462.71L1638.38 462.91L1642 463.1L1645.62 463.26L1649.25 463.41L1652.88 463.52L1656.5 463.62L1660.12 463.7L1663.75 463.75" fill="none" stroke="#4DAF4A" stroke-width="4.95" stroke-dasharray="4.95 14.95"/>
<path d="M1555 134.25L1555 223.75M1551.6 134.25L1558.4 134.25M1551.6 223.75L1558.4 223.75" fill="none" stroke="#377EB8" stroke-width="2.7"/>
<path d="M1663.75 205L1663.75 236.25M1660.35 205L1667.15 205M1660.35 236.25L1667.15 236.25" fill="none" stroke="#377EB8" stroke-width="2.7"/>
<path d="M1441.15 75.5L1441.15 262M1437.75 75.5L1444.55 75.5M1437.75 262L1444.55 262" fill="none" stroke="#E41A1C" stroke-width="2.7"/>
<path d="M1549.9 217.5L1549.9 280M1546.5 217.5L1553.3 217.5M1546.5 280L1553.3 280" fill="none" stroke="#E41A1C" stroke-width="2.7"/>
<path d="M1658.65 304.25L1658.65 401.75M1655.25 304.25L1662.05 304.25M1655.25 401.75L1662.05 401.75" fill="none" stroke="#E41A1C" stroke-width="2.7"/>
<path d="M1450.85 400L1450.85 441.75M1447.45 400L1454.25 400M1447.45 441.75L1454.25 441.75" fill="none" stroke="#4DAF4A" stroke-width="2.7"/>
<circle cx="1446.25" cy="283.25" r="9.15" fill="#fff" stroke="#377EB8" stroke-width="3"/>
<rect x="1546.9" y="170.65" width="16.2" height="16.2" fill="#fff" stroke="#377EB8" stroke-width="3" stroke-linejoin="round"/>
<path d="M1663.75 209.35L1675.15 220.75L1663.75 232.15L1652.35 220.75Z" fill="#fff" stroke="#377EB8" stroke-width="3" stroke-linejoin="round"/>
<circle cx="1441.15" cy="168.75" r="9.15" fill="#fff" stroke="#E41A1C" stroke-width="3"/>
<rect x="1541.8" y="241.15" width="16.2" height="16.2" fill="#fff" stroke="#E41A1C" stroke-width="3" stroke-linejoin="round"/>
<path d="M1658.65 341.1L1670.05 352.5L1658.65 363.9L1647.25 352.5Z" fill="#fff" stroke="#E41A1C" stroke-width="3" stroke-linejoin="round"/>
<circle cx="1450.85" cy="421.25" r="9.15" fill="#fff" stroke="#4DAF4A" stroke-width="3"/>
<rect x="1551.5" y="444.4" width="16.2" height="16.2" fill="#fff" stroke="#4DAF4A" stroke-width="3" stroke-linejoin="round"/>
<path d="M1668.35 452.35L1679.75 463.75L1668.35 475.15L1656.95 463.75Z" fill="#fff" stroke="#4DAF4A" stroke-width="3" stroke-linejoin="round"/>
</g>
<rect x="1425.3" y="57.6" width="257.1" height="430.7" fill="none" stroke="#000" stroke-width="2.7"/>
<rect x="1425.3" y="9.5" width="257.1" height="48.1" fill="#d9d9d9" stroke="#000" stroke-width="2.7"/>
<text transform="translate(1552.95 44) scale(1 1.0)" text-anchor="middle" font-size="29.6">pH 7</text>
<clipPath id="c1695_2"><rect x="1695.4" y="57.6" width="257.2" height="430.7"/></clipPath>
<g clip-path="url(#c1695_2)">
<line x1="1695.4" x2="1952.6" y1="152" y2="152" stroke="#ececec" stroke-width="1.6"/>
<line x1="1695.4" x2="1952.6" y1="263.1" y2="263.1" stroke="#ececec" stroke-width="1.6"/>
<line x1="1695.4" x2="1952.6" y1="374.3" y2="374.3" stroke="#ececec" stroke-width="1.6"/>
<line x1="1695.4" x2="1952.6" y1="485.4" y2="485.4" stroke="#ececec" stroke-width="1.6"/>
<line x1="1752.7" x2="1752.7" y1="57.6" y2="488.3" stroke="#ececec" stroke-width="1.6"/>
<line x1="1825.3" x2="1825.3" y1="57.6" y2="488.3" stroke="#ececec" stroke-width="1.6"/>
<line x1="1897.4" x2="1897.4" y1="57.6" y2="488.3" stroke="#ececec" stroke-width="1.6"/>
<line x1="1695.4" x2="1952.6" y1="96.4" y2="96.4" stroke="#e6e6e6" stroke-width="2.3"/>
<line x1="1695.4" x2="1952.6" y1="207.5" y2="207.5" stroke="#e6e6e6" stroke-width="2.3"/>
<line x1="1695.4" x2="1952.6" y1="318.7" y2="318.7" stroke="#e6e6e6" stroke-width="2.3"/>
<line x1="1695.4" x2="1952.6" y1="429.8" y2="429.8" stroke="#e6e6e6" stroke-width="2.3"/>
<line x1="1716.5" x2="1716.5" y1="57.6" y2="488.3" stroke="#e6e6e6" stroke-width="2.2"/>
<line x1="1788.7" x2="1788.7" y1="57.6" y2="488.3" stroke="#e6e6e6" stroke-width="2.2"/>
<line x1="1861.3" x2="1861.3" y1="57.6" y2="488.3" stroke="#e6e6e6" stroke-width="2.2"/>
<line x1="1933.9" x2="1933.9" y1="57.6" y2="488.3" stroke="#e6e6e6" stroke-width="2.2"/>
<line x1="1716.25" x2="1716.25" y1="57.6" y2="488.3" stroke="#767676" stroke-width="2.7" stroke-dasharray="2.7 7.23" stroke-dashoffset="7.58" />
<line x1="1825.75" x2="1825.75" y1="57.6" y2="488.3" stroke="#767676" stroke-width="2.7" stroke-dasharray="2.7 7.23" stroke-dashoffset="7.58" />
<line x1="1934.5" x2="1934.5" y1="57.6" y2="488.3" stroke="#767676" stroke-width="2.7" stroke-dasharray="2.7 7.23" stroke-dashoffset="7.58" />
<path d="M1716.25 119.5L1719.89 124.82L1723.53 130.01L1727.16 135.07L1730.8 140L1734.44 144.81L1738.08 149.49L1741.71 154.05L1745.35 158.47L1748.99 162.77L1752.62 166.94L1756.26 170.98L1759.9 174.9L1763.54 178.69L1767.17 182.35L1770.81 185.88L1774.45 189.29L1778.09 192.56L1781.72 195.72L1785.36 198.74L1789 201.64L1792.64 204.4L1796.28 207.05L1799.91 209.56L1803.55 211.95L1807.19 214.21L1810.83 216.34L1814.46 218.34L1818.1 220.22L1821.74 221.97L1825.38 223.59L1829.01 225.08L1832.65 226.45L1836.29 227.69L1839.92 228.8L1843.56 229.79L1847.2 230.65L1850.84 231.38L1854.47 231.98L1858.11 232.45L1861.75 232.8L1865.39 233.02L1869.03 233.12L1872.66 233.08L1876.3 232.92L1879.94 232.63L1883.58 232.21L1887.21 231.67L1890.85 231L1894.49 230.2L1898.12 229.27L1901.76 228.22L1905.4 227.04L1909.04 225.73L1912.67 224.29L1916.31 222.73L1919.95 221.04L1923.59 219.22L1927.22 217.27L1930.86 215.2L1934.5 213" fill="none" stroke="#377EB8" stroke-width="4.95" stroke-dasharray="4.95 14.95"/>
<path d="M1716.25 171.75L1719.89 169.57L1723.53 167.54L1727.16 165.64L1730.8 163.88L1734.44 162.26L1738.08 160.77L1741.71 159.43L1745.35 158.22L1748.99 157.15L1752.62 156.22L1756.26 155.43L1759.9 154.78L1763.54 154.27L1767.17 153.89L1770.81 153.65L1774.45 153.55L1778.09 153.59L1781.72 153.77L1785.36 154.09L1789 154.54L1792.64 155.13L1796.28 155.87L1799.91 156.74L1803.55 157.74L1807.19 158.89L1810.83 160.18L1814.46 161.6L1818.1 163.16L1821.74 164.86L1825.38 166.7L1829.01 168.68L1832.65 170.8L1836.29 173.05L1839.92 175.44L1843.56 177.97L1847.2 180.64L1850.84 183.45L1854.47 186.4L1858.11 189.48L1861.75 192.71L1865.39 196.07L1869.03 199.57L1872.66 203.21L1876.3 206.99L1879.94 210.9L1883.58 214.96L1887.21 219.15L1890.85 223.48L1894.49 227.95L1898.12 232.56L1901.76 237.3L1905.4 242.19L1909.04 247.21L1912.67 252.37L1916.31 257.67L1919.95 263.11L1923.59 268.69L1927.22 274.4L1930.86 280.26L1934.5 286.25" fill="none" stroke="#E41A1C" stroke-width="4.95" stroke-dasharray="4.95 14.95"/>
<path d="M1716.25 443.25L1719.89 443.49L1723.53 443.73L1727.16 443.97L1730.8 444.2L1734.44 444.42L1738.08 444.65L1741.71 444.86L1745.35 445.08L1748.99 445.29L1752.62 445.49L1756.26 445.69L1759.9 445.89L1763.54 446.09L1767.17 446.27L1770.81 446.46L1774.45 446.64L1778.09 446.82L1781.72 446.99L1785.36 447.16L1789 447.32L1792.64 447.48L1796.28 447.64L1799.91 447.79L1803.55 447.94L1807.19 448.08L1810.83 448.22L1814.46 448.36L1818.1 448.49L1821.74 448.61L1825.38 448.74L1829.01 448.86L1832.65 448.97L1836.29 449.08L1839.92 449.19L1843.56 449.29L1847.2 449.39L1850.84 449.48L1854.47 449.57L1858.11 449.66L1861.75 449.74L1865.39 449.82L1869.03 449.89L1872.66 449.96L1876.3 450.02L1879.94 450.08L1883.58 450.14L1887.21 450.19L1890.85 450.24L1894.49 450.29L1898.12 450.33L1901.76 450.36L1905.4 450.39L1909.04 450.42L1912.67 450.45L1916.31 450.46L1919.95 450.48L1923.59 450.49L1927.22 450.5L1930.86 450.5L1934.5 450.5" fill="none" stroke="#4DAF4A" stroke-width="4.95" stroke-dasharray="4.95 14.95"/>
<path d="M1716.25 107L1716.25 132M1712.85 107L1719.65 107M1712.85 132L1719.65 132" fill="none" stroke="#377EB8" stroke-width="2.7"/>
<path d="M1825.75 212L1825.75 235.5M1822.35 212L1829.15 212M1822.35 235.5L1829.15 235.5" fill="none" stroke="#377EB8" stroke-width="2.7"/>
<path d="M1711.15 135L1711.15 208.75M1707.75 135L1714.55 135M1707.75 208.75L1714.55 208.75" fill="none" stroke="#E41A1C" stroke-width="2.7"/>
<path d="M1820.65 125L1820.65 209.3M1817.25 125L1824.05 125M1817.25 209.3L1824.05 209.3" fill="none" stroke="#E41A1C" stroke-width="2.7"/>
<path d="M1929.4 233.75L1929.4 338M1926 233.75L1932.8 233.75M1926 338L1932.8 338" fill="none" stroke="#E41A1C" stroke-width="2.7"/>
<path d="M1716.25 108.1L1727.65 119.5L1716.25 130.9L1704.85 119.5Z" fill="#fff" stroke="#377EB8" stroke-width="3" stroke-linejoin="round"/>
<circle cx="1825.75" cy="223.75" r="9.15" fill="#fff" stroke="#377EB8" stroke-width="3"/>
<rect x="1926.4" y="204.9" width="16.2" height="16.2" fill="#fff" stroke="#377EB8" stroke-width="3" stroke-linejoin="round"/>
<path d="M1711.15 160.35L1722.55 171.75L1711.15 183.15L1699.75 171.75Z" fill="#fff" stroke="#E41A1C" stroke-width="3" stroke-linejoin="round"/>
<circle cx="1820.65" cy="166.9" r="9.15" fill="#fff" stroke="#E41A1C" stroke-width="3"/>
<rect x="1921.3" y="278.15" width="16.2" height="16.2" fill="#fff" stroke="#E41A1C" stroke-width="3" stroke-linejoin="round"/>
<path d="M1720.85 431.85L1732.25 443.25L1720.85 454.65L1709.45 443.25Z" fill="#fff" stroke="#4DAF4A" stroke-width="3" stroke-linejoin="round"/>
<circle cx="1830.35" cy="448.75" r="9.15" fill="#fff" stroke="#4DAF4A" stroke-width="3"/>
<rect x="1931" y="442.4" width="16.2" height="16.2" fill="#fff" stroke="#4DAF4A" stroke-width="3" stroke-linejoin="round"/>
</g>
<rect x="1695.4" y="57.6" width="257.2" height="430.7" fill="none" stroke="#000" stroke-width="2.7"/>
<rect x="1695.4" y="9.5" width="257.2" height="48.1" fill="#d9d9d9" stroke="#000" stroke-width="2.7"/>
<text transform="translate(1823.1 44) scale(1 1.0)" text-anchor="middle" font-size="29.6">pH 8</text>
<line x1="102.2" x2="108.7" y1="84.7" y2="84.7" stroke="#000" stroke-width="2.7"/>
<text transform="translate(43.06 94) scale(1 1.03)" font-size="29.3">160</text>
<line x1="102.2" x2="108.7" y1="185.83" y2="185.83" stroke="#000" stroke-width="2.7"/>
<text transform="translate(43.06 195.13) scale(1 1.03)" font-size="29.3">120</text>
<line x1="102.2" x2="108.7" y1="286.97" y2="286.97" stroke="#000" stroke-width="2.7"/>
<text transform="translate(59.35 296.27) scale(1 1.03)" font-size="29.3">80</text>
<line x1="102.2" x2="108.7" y1="388.1" y2="388.1" stroke="#000" stroke-width="2.7"/>
<text transform="translate(59.35 397.4) scale(1 1.03)" font-size="29.3">40</text>
<line x1="892.2" x2="898.7" y1="155.2" y2="155.2" stroke="#000" stroke-width="2.7"/>
<text transform="translate(908.91 165) scale(1 1.03)" font-size="29.3">0.75</text>
<line x1="892.2" x2="898.7" y1="266.5" y2="266.5" stroke="#000" stroke-width="2.7"/>
<text transform="translate(908.91 276.3) scale(1 1.03)" font-size="29.3">0.50</text>
<line x1="892.2" x2="898.7" y1="377.9" y2="377.9" stroke="#000" stroke-width="2.7"/>
<text transform="translate(908.91 387.7) scale(1 1.03)" font-size="29.3">0.25</text>
<rect x="124.4" y="489.6" width="7" height="2.1" fill="#222"/>
<rect x="231.4" y="489.6" width="7" height="2.1" fill="#222"/>
<rect x="338.4" y="489.6" width="7" height="2.1" fill="#222"/>
<rect x="390.1" y="489.6" width="7" height="2.1" fill="#222"/>
<rect x="497.1" y="489.6" width="7" height="2.1" fill="#222"/>
<rect x="604.4" y="489.6" width="7" height="2.1" fill="#222"/>
<rect x="656.4" y="489.6" width="7" height="2.1" fill="#222"/>
<rect x="762.65" y="489.6" width="7" height="2.1" fill="#222"/>
<rect x="870.15" y="489.6" width="7" height="2.1" fill="#222"/>
<text x="107.98" y="522.3" font-size="29.3">0.5</text>
<text x="179.49" y="522.3" font-size="29.3">1.0</text>
<text x="250.13" y="522.3" font-size="29.3">1.5</text>
<text x="321.27" y="522.3" font-size="29.3">2.0</text>
<text x="373.03" y="522.3" font-size="29.3">0.5</text>
<text x="443.94" y="522.3" font-size="29.3">1.0</text>
<text x="514.43" y="522.3" font-size="29.3">1.5</text>
<text x="563.07" y="522.3" font-size="29.3">2.0</text>
<text x="638.68" y="522.3" font-size="29.3">0.5</text>
<text x="710.39" y="522.3" font-size="29.3">1.0</text>
<text x="781.53" y="522.3" font-size="29.3">1.5</text>
<text x="852.27" y="522.3" font-size="29.3">2.0</text>
<text x="451.87" y="565" font-size="29.3">OG (%)</text>
<text transform="translate(21.7 334.33) rotate(-90) scale(1 1)" font-size="29.3">Size (nm)</text>
<text transform="translate(1009.1 317.78) rotate(-90) scale(1 1)" font-size="31.1">PdI</text>
<text transform="translate(-0.1 28.6) scale(1 1.02)" font-size="41" font-weight="bold">a</text>
<line x1="1148.9" x2="1155.5" y1="97" y2="97" stroke="#000" stroke-width="2.7"/>
<text transform="translate(1089.96 106) scale(1 1.03)" font-size="29.3">100</text>
<line x1="1148.9" x2="1155.5" y1="207.97" y2="207.97" stroke="#000" stroke-width="2.7"/>
<text transform="translate(1106.34 216.97) scale(1 1.03)" font-size="29.3">75</text>
<line x1="1148.9" x2="1155.5" y1="318.93" y2="318.93" stroke="#000" stroke-width="2.7"/>
<text transform="translate(1106.25 327.93) scale(1 1.03)" font-size="29.3">50</text>
<line x1="1148.9" x2="1155.5" y1="429.9" y2="429.9" stroke="#000" stroke-width="2.7"/>
<text transform="translate(1106.34 438.9) scale(1 1.03)" font-size="29.3">25</text>
<line x1="1952.6" x2="1959" y1="96.9" y2="96.9" stroke="#000" stroke-width="2.7"/>
<text transform="translate(1969.16 106.6) scale(1 1.03)" font-size="29.3">0.8</text>
<line x1="1952.6" x2="1959" y1="208" y2="208" stroke="#000" stroke-width="2.7"/>
<text transform="translate(1969.16 217.7) scale(1 1.03)" font-size="29.3">0.6</text>
<line x1="1952.6" x2="1959" y1="319" y2="319" stroke="#000" stroke-width="2.7"/>
<text transform="translate(1969.16 328.7) scale(1 1.03)" font-size="29.3">0.4</text>
<line x1="1952.6" x2="1959" y1="430" y2="430" stroke="#000" stroke-width="2.7"/>
<text transform="translate(1969.16 439.7) scale(1 1.03)" font-size="29.3">0.2</text>
<text x="1154.93" y="522.3" font-size="29.3">0.5</text>
<text x="1227.99" y="522.3" font-size="29.3">1.0</text>
<text x="1300.08" y="522.3" font-size="29.3">1.5</text>
<text x="1371.87" y="522.3" font-size="29.3">2.0</text>
<text x="1425.28" y="522.3" font-size="29.3">0.5</text>
<text x="1497.79" y="522.3" font-size="29.3">1.0</text>
<text x="1569.23" y="522.3" font-size="29.3">1.5</text>
<text x="1641.87" y="522.3" font-size="29.3">2.0</text>
<text x="1696.03" y="522.3" font-size="29.3">0.5</text>
<text x="1767.54" y="522.3" font-size="29.3">1.0</text>
<text x="1840.18" y="522.3" font-size="29.3">1.5</text>
<text x="1912.17" y="522.3" font-size="29.3">2.0</text>
<text x="1504.87" y="565" font-size="29.3">OG (%)</text>
<text transform="translate(1070.2 362.79) rotate(-90) scale(1 1)" font-size="31.6">Size (nm)</text>
<text transform="translate(2051.5 294.82) rotate(-90) scale(1 1)" font-size="28.4">PdI</text>
<text x="1041.5" y="30.6" font-size="41" font-weight="bold">b</text>
<text transform="translate(154.79 616.5) scale(1 1.06)" font-size="29.4">LPR</text>
<circle cx="227.7" cy="607" r="9.2" fill="none" stroke="#000" stroke-width="3.1"/>
<text transform="translate(248.12 616.5) scale(1 1.05)" font-size="29.4">25</text>
<rect x="304.3" y="599.1" width="15.8" height="15.8" fill="none" stroke="#000" stroke-width="3"/>
<text transform="translate(332.62 616.5) scale(1 1.05)" font-size="29.4">80</text>
<path d="M397 595.9L408.6 607.5L397 619.1L385.4 607.5Z" fill="none" stroke="#000" stroke-width="3" stroke-linejoin="round"/>
<text transform="translate(418.92 616.5) scale(1 1.05)" font-size="29.4">135</text>
<rect x="540.7" y="604.7" width="16.5" height="5" fill="#E41A1C"/>
<rect x="557.2" y="605.7" width="15.4" height="3" fill="#E41A1C"/>
<circle cx="557.2" cy="607.1" r="10.4" fill="#E41A1C"/>
<text transform="translate(582.19 616.5) scale(1 1.05)" font-size="29.4">FCS</text>
<rect x="653.3" y="604.7" width="15.8" height="5" fill="#377EB8"/>
<rect x="669.1" y="605.7" width="16.2" height="3" fill="#377EB8"/>
<circle cx="669.1" cy="607.1" r="10.4" fill="#377EB8"/>
<text transform="translate(693.89 616.5) scale(1 1.05)" font-size="29.4">DLS</text>
<rect x="764.4" y="604.7" width="16.1" height="5" fill="#4DAF4A"/>
<rect x="780.5" y="605.7" width="15.8" height="3" fill="#4DAF4A"/>
<circle cx="780.5" cy="607.1" r="10.4" fill="#4DAF4A"/>
<text transform="translate(805.29 616.5) scale(1 1.05)" font-size="29.4">PdI</text>
<text transform="translate(1206.49 616.5) scale(1 1.06)" font-size="29.4">PPR</text>
<circle cx="1282.8" cy="607" r="9.2" fill="none" stroke="#000" stroke-width="3.1"/>
<text transform="translate(1303.42 616.5) scale(1 1.05)" font-size="29.4">25</text>
<rect x="1359.3" y="599.1" width="15.8" height="15.8" fill="none" stroke="#000" stroke-width="3"/>
<text transform="translate(1387.82 616.5) scale(1 1.05)" font-size="29.4">80</text>
<path d="M1452.1 595.9L1463.7 607.5L1452.1 619.1L1440.5 607.5Z" fill="none" stroke="#000" stroke-width="3" stroke-linejoin="round"/>
<text transform="translate(1475.47 616.5) scale(1 1.05)" font-size="29.4">135</text>
<rect x="1596" y="604.7" width="16.1" height="5" fill="#E41A1C"/>
<rect x="1612.1" y="605.7" width="15.8" height="3" fill="#E41A1C"/>
<circle cx="1612.1" cy="607.1" r="10.4" fill="#E41A1C"/>
<text transform="translate(1635.99 616.5) scale(1 1.05)" font-size="29.4">FCS</text>
<rect x="1708.2" y="604.7" width="16.2" height="5" fill="#377EB8"/>
<rect x="1724.4" y="605.7" width="16.1" height="3" fill="#377EB8"/>
<circle cx="1724.4" cy="607.1" r="10.4" fill="#377EB8"/>
<text transform="translate(1749.19 616.5) scale(1 1.05)" font-size="29.4">DLS</text>
<rect x="1819.1" y="604.7" width="16.2" height="5" fill="#4DAF4A"/>
<rect x="1835.3" y="605.7" width="16.3" height="3" fill="#4DAF4A"/>
<circle cx="1835.3" cy="607.1" r="10.4" fill="#4DAF4A"/>
<text transform="translate(1855.29 616.5) scale(1 1.05)" font-size="29.4">PdI</text>
</svg>
</body></html>
